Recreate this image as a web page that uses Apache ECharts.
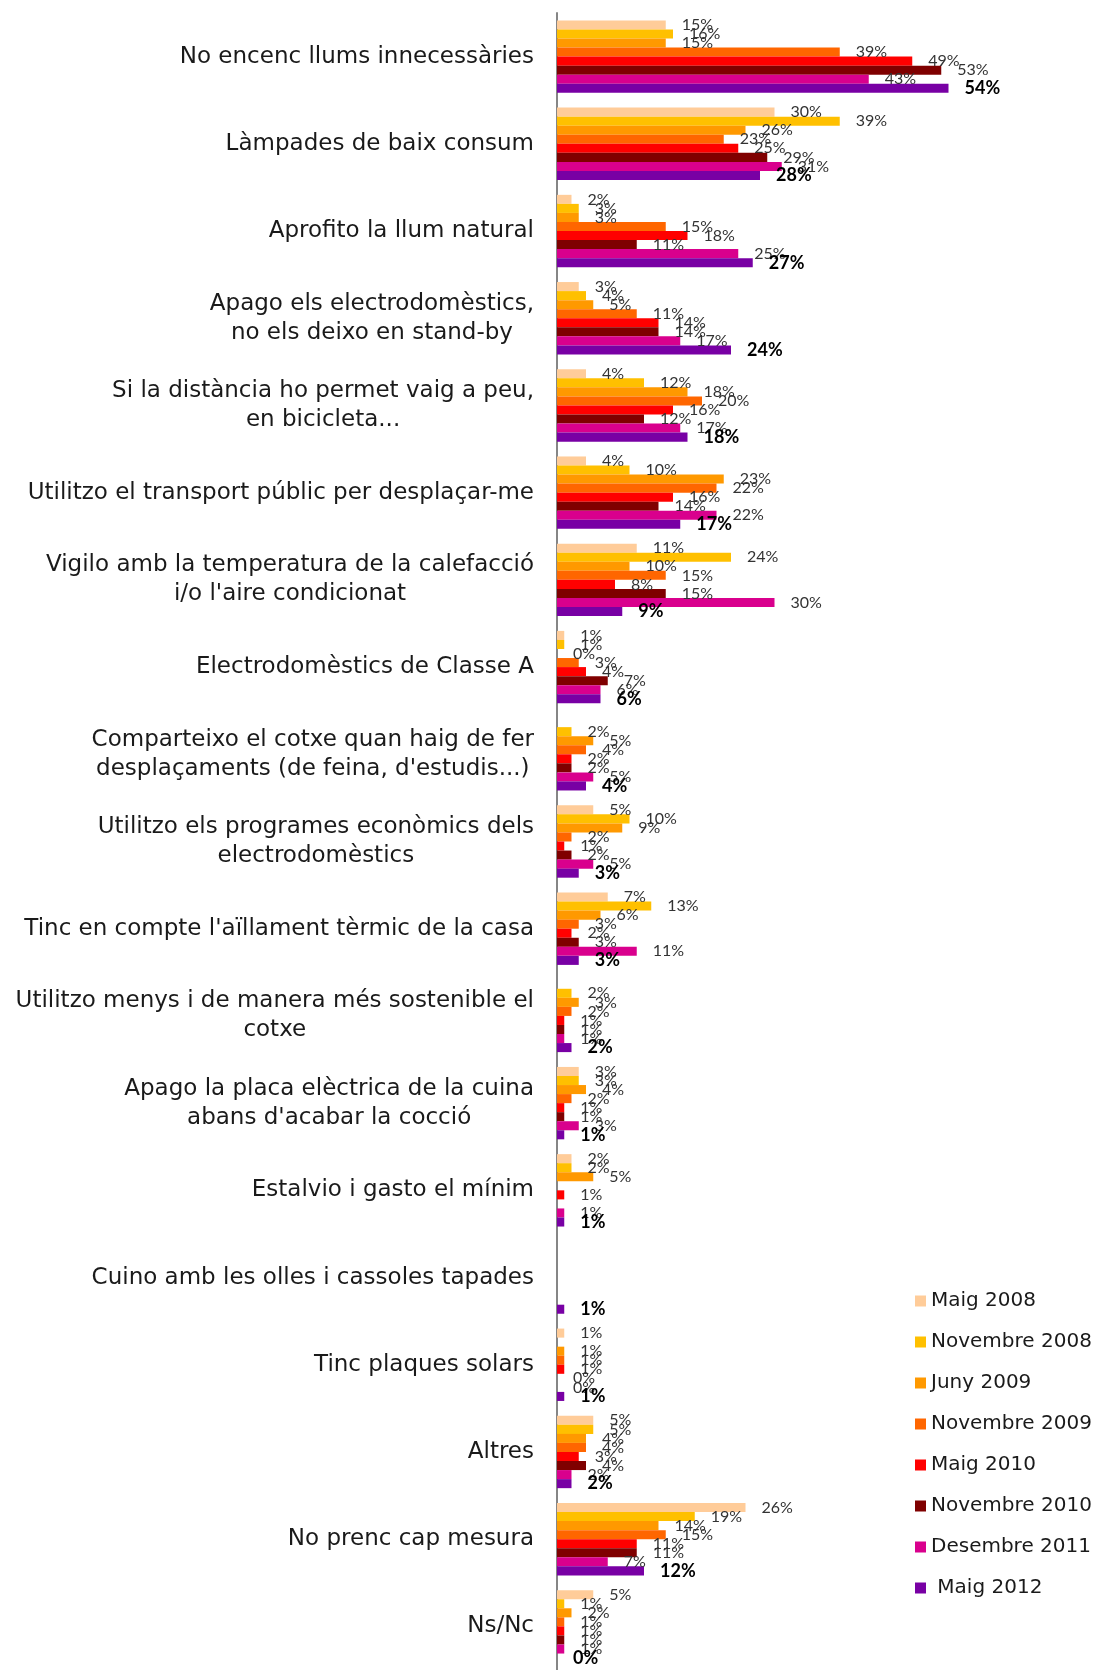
<!DOCTYPE html>
<html>
<head>
<meta charset="utf-8">
<style>
  html, body { margin: 0; padding: 0; background: #fff; }
  #chart { width: 1096px; height: 1670px; }
</style>
<script src="https://cdn.jsdelivr.net/npm/echarts@6/dist/echarts.min.js"></script>
</head>
<body>
<div id="chart"></div>
<script>
// categories, top to bottom
const categories = [
  'No encenc llums innecessàries',
  'Làmpades de baix consum',
  'Aprofito la llum natural',
  'Apago els electrodomèstics,\nno els deixo en stand-by',
  'Si la distància ho permet vaig a peu,\nen bicicleta...',
  'Utilitzo el transport públic per desplaçar-me',
  'Vigilo amb la temperatura de la calefacció\ni/o l\'aire condicionat',
  'Electrodomèstics de Classe A',
  'Comparteixo el cotxe quan haig de fer\ndesplaçaments (de feina, d\'estudis...)',
  'Utilitzo els programes econòmics dels\nelectrodomèstics',
  'Tinc en compte l\'aïllament tèrmic de la casa',
  'Utilitzo menys i de manera més sostenible el\ncotxe',
  'Apago la placa elèctrica de la cuina\nabans d\'acabar la cocció',
  'Estalvio i gasto el mínim',
  'Cuino amb les olles i cassoles tapades',
  'Tinc plaques solars',
  'Altres',
  'No prenc cap mesura',
  'Ns/Nc'
];

const seriesNames = ['Maig 2008', 'Novembre 2008', 'Juny 2009', 'Novembre 2009',
  'Maig 2010', 'Novembre 2010', 'Desembre 2011', ' Maig 2012'];

const colors = ['#FFCC99', '#FFC000', '#FF9900', '#FF6600',
  '#FF0000', '#7F0000', '#D9008D', '#7800A4'];

// values in %, null = no answer registered
const maig2008      = [15, 30, 2, 3, 4, 4, 11, 1, null, 5, 7, null, 3, 2, null, 1, 5, 26, 5];
const novembre2008  = [16, 39, 3, 4, 12, 10, 24, 1, 2, 10, 13, 2, 3, 2, null, null, 5, 19, 1];
const juny2009      = [15, 26, 3, 5, 18, 23, 10, 0, 5, 9, 6, 3, 4, 5, null, 1, 4, 14, 2];
const novembre2009  = [39, 23, 15, 11, 20, 22, 15, 3, 4, 2, 3, 2, 2, null, null, 1, 4, 15, 1];
const maig2010      = [49, 25, 18, 14, 16, 16, 8, 4, 2, 1, 2, 1, 1, 1, null, 1, 3, 11, 1];
const novembre2010  = [53, 29, 11, 14, 12, 14, 15, 7, 2, 2, 3, 1, 1, null, null, 0, 4, 11, 1];
const desembre2011  = [43, 31, 25, 17, 17, 22, 30, 6, 5, 5, 11, 1, 3, 1, null, 0, 2, 7, 1];
const maig2012      = [54, 28, 27, 24, 18, 17, 9, 6, 4, 3, 3, 2, 1, 1, 1, 1, 2, 12, 0];

const seriesData = [maig2008, novembre2008, juny2009, novembre2009,
  maig2010, novembre2010, desembre2011, maig2012];

const CAT_FONT = 'DejaVu Sans';
const LBL_FONT = 'Lato';

const chart = echarts.init(document.getElementById('chart'));

const series = seriesData.map((data, i) => {
  const last = i === seriesData.length - 1;
  return {
    name: seriesNames[i],
    type: 'bar',
    data: data,
    barGap: '0%',
    barCategoryGap: '17%',
    itemStyle: { color: colors[i] },
    label: {
      show: true,
      position: 'right',
      distance: 16,
      formatter: '{c}%',
      fontFamily: LBL_FONT,
      fontSize: last ? 18 : 16,
      fontWeight: last ? 'bold' : 'normal',
      color: last ? '#000' : '#333'
    }
  };
});

chart.setOption({
  animation: false,
  color: colors,
  grid: { left: 557, top: 13, width: 435, height: 1659 },
  xAxis: {
    type: 'value',
    min: 0,
    max: 60,
    show: false
  },
  yAxis: {
    type: 'category',
    inverse: true,
    data: categories,
    axisLine: { lineStyle: { color: '#868686', width: 2 } },
    axisTick: { length: 6, lineStyle: { color: '#868686', width: 2 } },
    axisLabel: {
      margin: 23,
      fontFamily: CAT_FONT,
      fontSize: 23,
      color: '#1a1a1a',
      lineHeight: 29,
      formatter: function (value) {
        const lines = value.split('\n');
        if (lines.length === 1) return value;
        return lines.map(l => '{c|' + l + '}').join('\n');
      },
      rich: {
        c: { align: 'center', fontFamily: CAT_FONT, fontSize: 23, lineHeight: 29, color: '#1a1a1a' }
      }
    }
  },
  legend: {
    orient: 'vertical',
    left: 910,
    top: 1286,
    icon: 'rect',
    itemWidth: 11,
    itemHeight: 11,
    itemGap: 21,
    textStyle: { fontFamily: CAT_FONT, fontSize: 20, color: '#1a1a1a', lineHeight: 20 },
    data: seriesNames
  },
  series: series
});
</script>
</body>
</html>
